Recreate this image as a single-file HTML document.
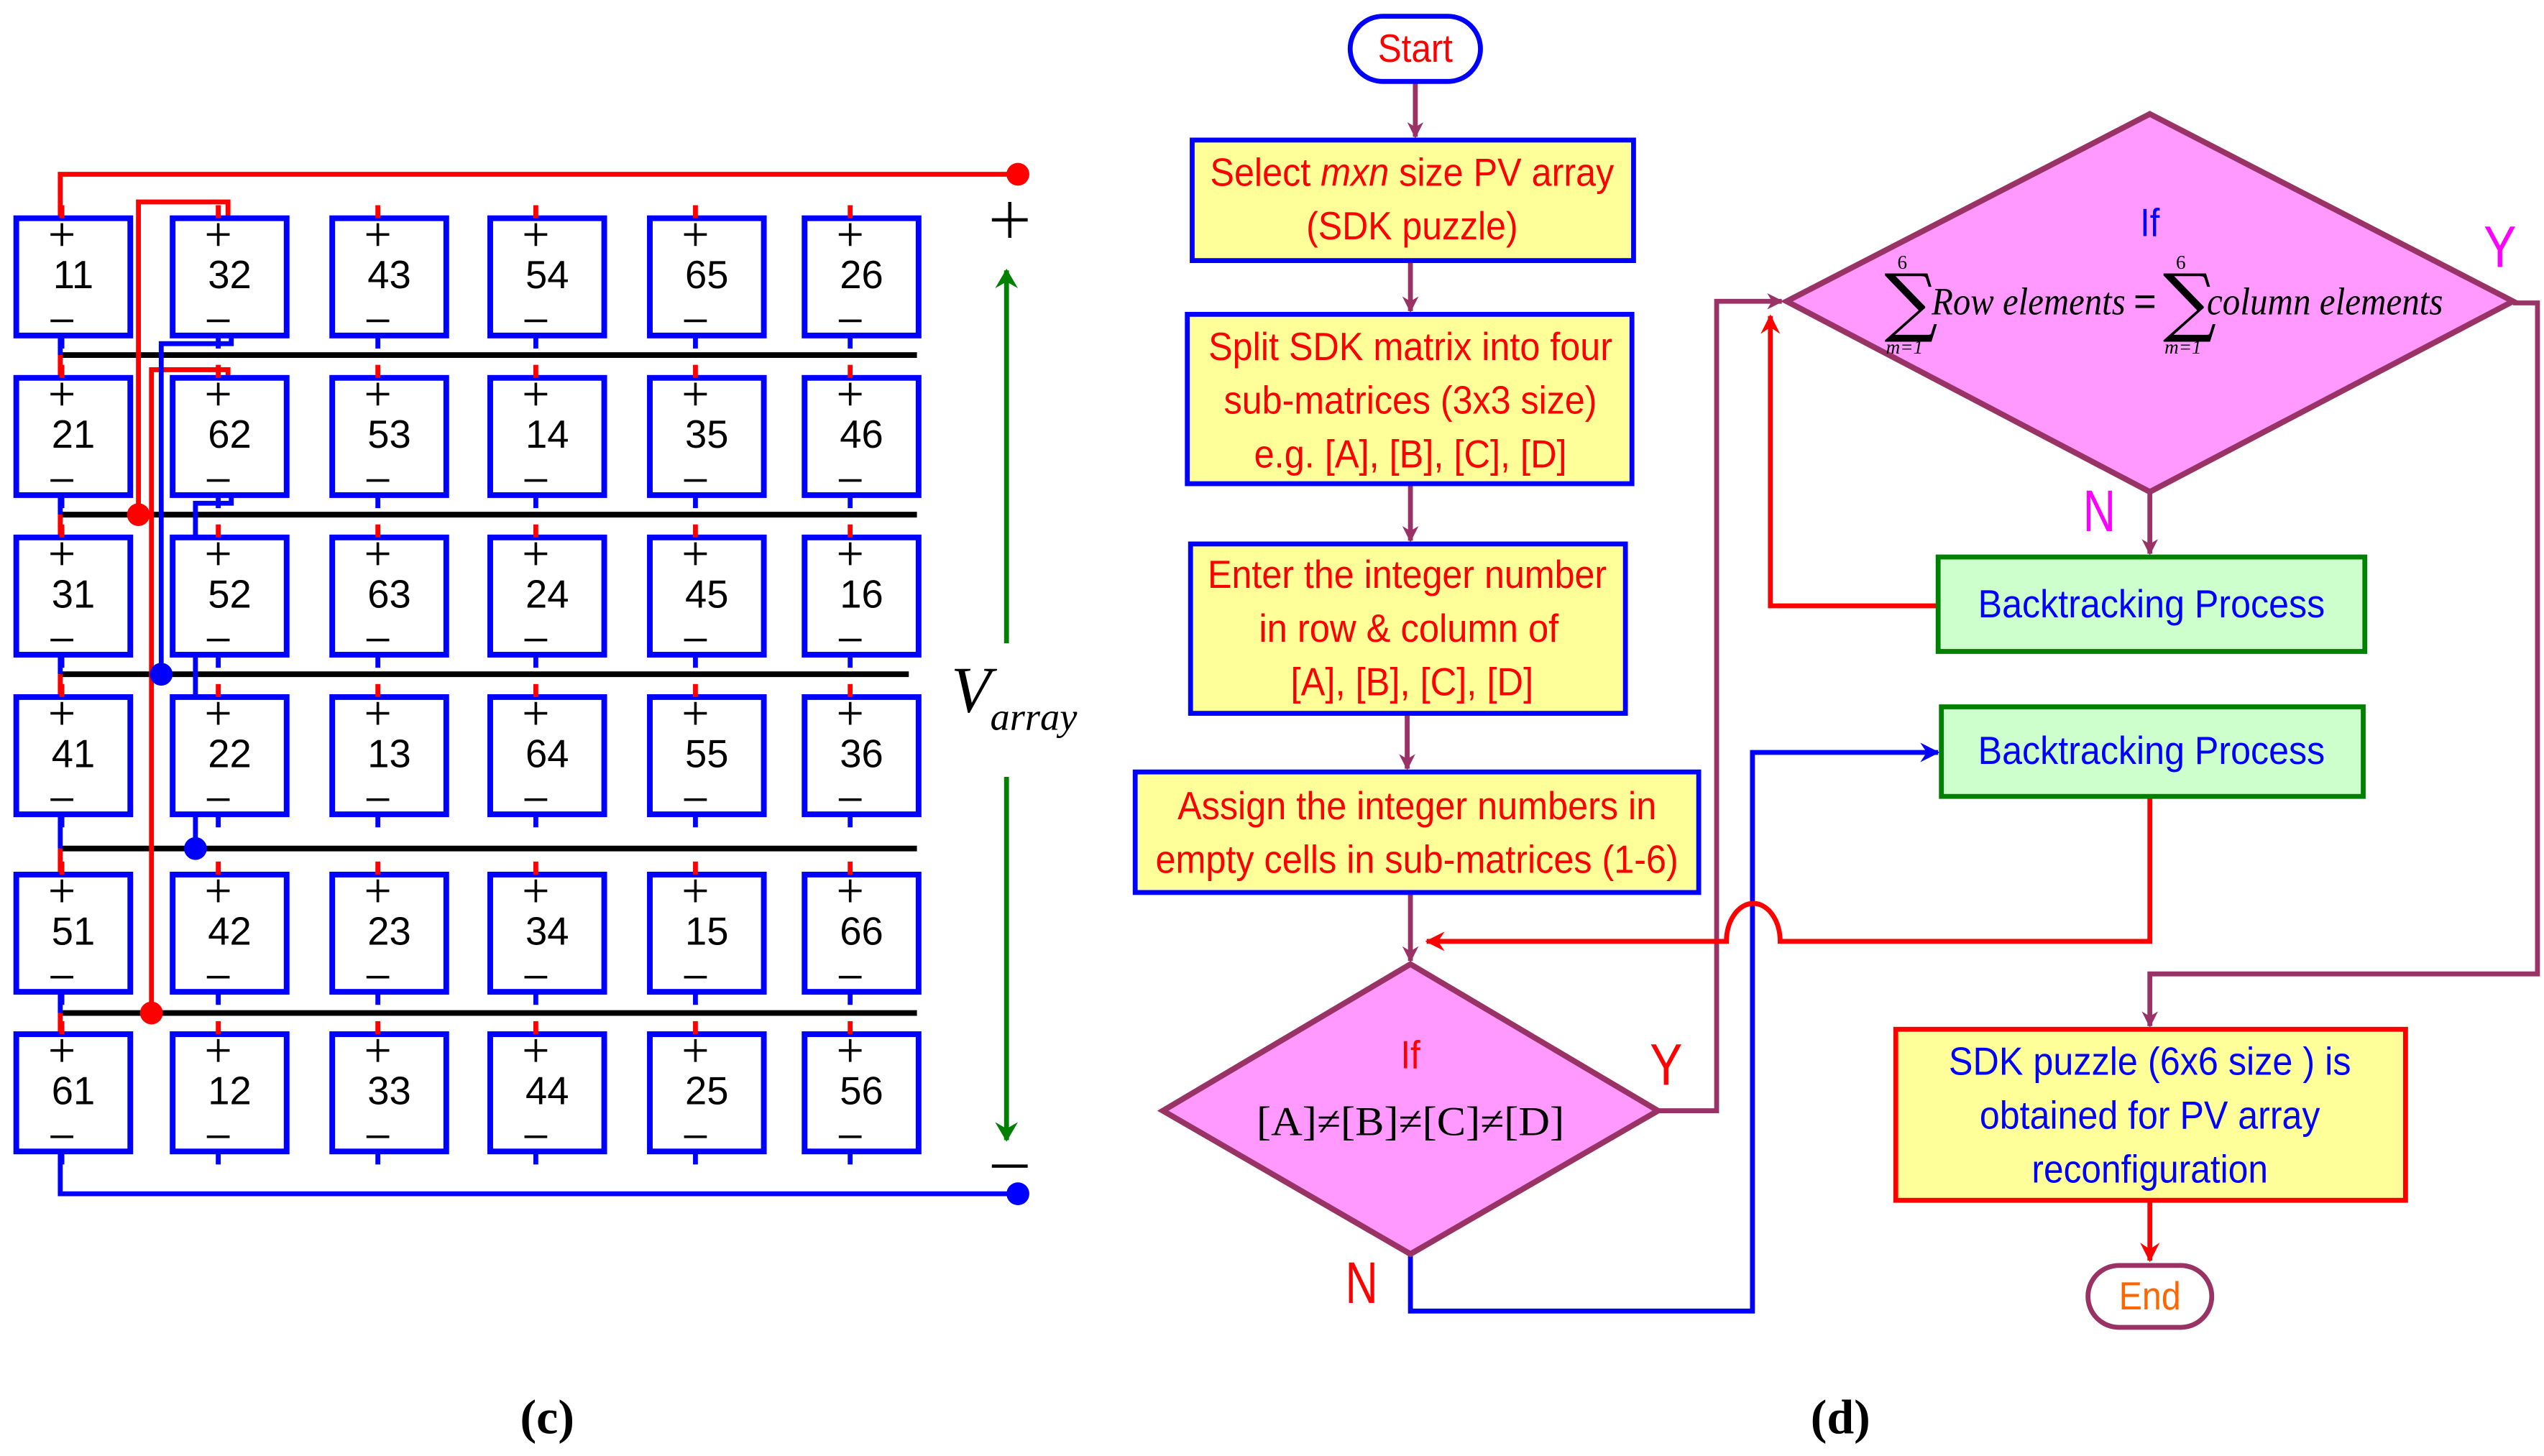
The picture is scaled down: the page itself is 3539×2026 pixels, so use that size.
<!DOCTYPE html>
<html><head><meta charset="utf-8"><style>
html,body{margin:0;padding:0;background:#fff;width:3539px;height:2026px;overflow:hidden}
svg{display:block}
.n{font-family:"Liberation Sans Narrow","Liberation Sans",sans-serif;font-size:24px;fill:#000;text-anchor:middle}
.t{font-family:"Liberation Sans Narrow","Liberation Sans",sans-serif;font-size:24px;text-anchor:middle}
.m{font-family:"Liberation Serif",serif;font-style:italic;font-size:24px;fill:#000}
.s{font-family:"Liberation Serif",serif;font-style:italic;font-size:12px;fill:#000}
.big{font-size:36px}
.sig{font-family:"DejaVu Serif","Liberation Serif",serif;font-size:46px;fill:#000}
</style></head><body>
<svg width="3539" height="2026" viewBox="0 0 1562 894" preserveAspectRatio="none" xmlns="http://www.w3.org/2000/svg">
<defs>
<symbol id="c" overflow="visible">
<rect x="0" y="0" width="70" height="72" fill="#fff" stroke="#0000ff" stroke-width="3.5"/>
<line x1="28" y1="-8" x2="28" y2="0" stroke="#f00" stroke-width="3"/>
<line x1="28" y1="72" x2="28" y2="80" stroke="#00f" stroke-width="3"/>
<path d="M21 10h14M28 3v14M21 63h14" stroke="#000" stroke-width="1.6"/>
</symbol>
<marker id="ap" markerWidth="10" markerHeight="10" refX="9" refY="5" orient="auto" markerUnits="userSpaceOnUse" viewBox="0 0 10 10"><path d="M0,0 L10,5 L0,10 L3,5z" fill="#993366"/></marker>
<marker id="ar" markerWidth="12" markerHeight="12" refX="11" refY="6" orient="auto" markerUnits="userSpaceOnUse" viewBox="0 0 12 12"><path d="M0,0 L12,6 L0,12 L4,6z" fill="#f00"/></marker>
<marker id="ab" markerWidth="12" markerHeight="12" refX="11" refY="6" orient="auto" markerUnits="userSpaceOnUse" viewBox="0 0 12 12"><path d="M0,0 L12,6 L0,12 L4,6z" fill="#00f"/></marker>
<marker id="ag" markerWidth="12" markerHeight="14" refX="11" refY="7" orient="auto" markerUnits="userSpaceOnUse" viewBox="0 0 12 14"><path d="M0,0 L12,7 L0,14 L4,7z" fill="#008000"/></marker>
</defs>

<g stroke="#000" stroke-width="3.5">
<line x1="37" y1="218" x2="563" y2="218"/><line x1="37" y1="316" x2="563" y2="316"/>
<line x1="37" y1="414" x2="558" y2="414"/><line x1="37" y1="521" x2="563" y2="521"/>
<line x1="37" y1="622" x2="563" y2="622"/>
</g>
<g stroke-width="3">
<path d="M37 134V107H625" stroke="#f00" fill="none"/>
<path d="M37 206V218M37 304V316M37 402V414M37 500V521M37 608V622M37 707V733H625" stroke="#00f" fill="none"/>
<path d="M37 218V232M37 316V330M37 414V428M37 521V537M37 622V635" stroke="#f00" fill="none"/>
<path d="M140 134V124H85V316" stroke="#f00" fill="none"/>
<path d="M140 232V227H93V622" stroke="#f00" fill="none"/>
<path d="M142 206V211H99V414" stroke="#00f" fill="none"/>
<path d="M142 304V309H120V521" stroke="#00f" fill="none"/>
</g>
<circle cx="625" cy="107" r="7" fill="#f00"/><circle cx="625" cy="733" r="7" fill="#00f"/>
<circle cx="85" cy="316" r="7" fill="#f00"/><circle cx="93" cy="622" r="7" fill="#f00"/>
<circle cx="99" cy="414" r="7" fill="#00f"/><circle cx="120" cy="521" r="7" fill="#00f"/>

<g>
<use href="#c" x="10" y="134"/><use href="#c" x="106" y="134"/><use href="#c" x="204" y="134"/><use href="#c" x="301" y="134"/><use href="#c" x="399" y="134"/><use href="#c" x="494" y="134"/>
<use href="#c" x="10" y="232"/><use href="#c" x="106" y="232"/><use href="#c" x="204" y="232"/><use href="#c" x="301" y="232"/><use href="#c" x="399" y="232"/><use href="#c" x="494" y="232"/>
<use href="#c" x="10" y="330"/><use href="#c" x="106" y="330"/><use href="#c" x="204" y="330"/><use href="#c" x="301" y="330"/><use href="#c" x="399" y="330"/><use href="#c" x="494" y="330"/>
<use href="#c" x="10" y="428"/><use href="#c" x="106" y="428"/><use href="#c" x="204" y="428"/><use href="#c" x="301" y="428"/><use href="#c" x="399" y="428"/><use href="#c" x="494" y="428"/>
<use href="#c" x="10" y="537"/><use href="#c" x="106" y="537"/><use href="#c" x="204" y="537"/><use href="#c" x="301" y="537"/><use href="#c" x="399" y="537"/><use href="#c" x="494" y="537"/>
<use href="#c" x="10" y="635"/><use href="#c" x="106" y="635"/><use href="#c" x="204" y="635"/><use href="#c" x="301" y="635"/><use href="#c" x="399" y="635"/><use href="#c" x="494" y="635"/>
</g>
<g class="n">
<text x="45" y="177">11</text><text x="141" y="177">32</text><text x="239" y="177">43</text><text x="336" y="177">54</text><text x="434" y="177">65</text><text x="529" y="177">26</text>
<text x="45" y="275">21</text><text x="141" y="275">62</text><text x="239" y="275">53</text><text x="336" y="275">14</text><text x="434" y="275">35</text><text x="529" y="275">46</text>
<text x="45" y="373">31</text><text x="141" y="373">52</text><text x="239" y="373">63</text><text x="336" y="373">24</text><text x="434" y="373">45</text><text x="529" y="373">16</text>
<text x="45" y="471">41</text><text x="141" y="471">22</text><text x="239" y="471">13</text><text x="336" y="471">64</text><text x="434" y="471">55</text><text x="529" y="471">36</text>
<text x="45" y="580">51</text><text x="141" y="580">42</text><text x="239" y="580">23</text><text x="336" y="580">34</text><text x="434" y="580">15</text><text x="529" y="580">66</text>
<text x="45" y="678">61</text><text x="141" y="678">12</text><text x="239" y="678">33</text><text x="336" y="678">44</text><text x="434" y="678">25</text><text x="529" y="678">56</text>
</g>
<path d="M609 135h22M620 124v22M609 716h22" stroke="#000" stroke-width="2"/>
<line x1="618" y1="395" x2="618" y2="166" stroke="#008000" stroke-width="3" marker-end="url(#ag)"/>
<line x1="618" y1="477" x2="618" y2="700" stroke="#008000" stroke-width="3" marker-end="url(#ag)"/>
<text x="584" y="437" font-family="Liberation Serif,serif" font-style="italic" font-size="40">V</text>
<text x="608" y="448" font-family="Liberation Serif,serif" font-style="italic" font-size="24">array</text>

<text x="336" y="880" font-family="Liberation Serif,serif" font-weight="bold" font-size="30" text-anchor="middle">(c)</text>
<text x="1130" y="880" font-family="Liberation Serif,serif" font-weight="bold" font-size="30" text-anchor="middle">(d)</text>

<g fill="none" stroke-width="3">
<line x1="869" y1="50" x2="869" y2="84" stroke="#993366" marker-end="url(#ap)"/>
<line x1="866" y1="160" x2="866" y2="191" stroke="#993366" marker-end="url(#ap)"/>
<line x1="866" y1="297" x2="866" y2="332" stroke="#993366" marker-end="url(#ap)"/>
<line x1="864" y1="438" x2="864" y2="472" stroke="#993366" marker-end="url(#ap)"/>
<line x1="866" y1="548" x2="866" y2="590" stroke="#993366" marker-end="url(#ap)"/>
<path d="M1018 682H1054V185H1094" stroke="#993366" marker-end="url(#ap)"/>
<path d="M1543 186H1558V598H1320V630" stroke="#993366" marker-end="url(#ap)"/>
<line x1="1320" y1="302" x2="1320" y2="340" stroke="#993366" marker-end="url(#ap)"/>
<path d="M1190 372H1087V194" stroke="#f00" marker-end="url(#ar)"/>
<path d="M866 770V805H1076V462H1190" stroke="#00f" marker-end="url(#ab)"/>
<path d="M1320 489V578H1093A8.5 12 0 0 0 1060 578H876" stroke="#f00" marker-end="url(#ar)"/>
<line x1="1320" y1="737" x2="1320" y2="774" stroke="#f00" marker-end="url(#ar)"/>
</g>

<rect x="829" y="10" width="80" height="40" rx="20" fill="#fff" stroke="#00f" stroke-width="3"/>
<text x="869" y="38" class="t" fill="#f00" textLength="46" lengthAdjust="spacingAndGlyphs">Start</text>

<rect x="732" y="86" width="271" height="74" fill="#ffff99" stroke="#00f" stroke-width="3"/>
<text class="t" fill="#f00" x="867" y="114" textLength="248" lengthAdjust="spacingAndGlyphs">Select <tspan font-style="italic">mxn</tspan> size PV array</text>
<text class="t" fill="#f00" x="867" y="147" textLength="130" lengthAdjust="spacingAndGlyphs">(SDK puzzle)</text>

<rect x="729" y="193" width="273" height="104" fill="#ffff99" stroke="#00f" stroke-width="3"/>
<text class="t" fill="#f00" x="866" y="221" textLength="248" lengthAdjust="spacingAndGlyphs">Split SDK matrix into four</text>
<text class="t" fill="#f00" x="866" y="254" textLength="229" lengthAdjust="spacingAndGlyphs">sub-matrices (3x3 size)</text>
<text class="t" fill="#f00" x="866" y="287" textLength="192" lengthAdjust="spacingAndGlyphs">e.g. [A], [B], [C], [D]</text>

<rect x="731" y="334" width="267" height="104" fill="#ffff99" stroke="#00f" stroke-width="3"/>
<text class="t" fill="#f00" x="864" y="361" textLength="245" lengthAdjust="spacingAndGlyphs">Enter the integer number</text>
<text class="t" fill="#f00" x="865" y="394" textLength="184" lengthAdjust="spacingAndGlyphs">in row &amp; column of</text>
<text class="t" fill="#f00" x="867" y="427" textLength="149" lengthAdjust="spacingAndGlyphs">[A], [B], [C], [D]</text>

<rect x="697" y="474" width="346" height="74" fill="#ffff99" stroke="#00f" stroke-width="3"/>
<text class="t" fill="#f00" x="870" y="503" textLength="294" lengthAdjust="spacingAndGlyphs">Assign the integer numbers in</text>
<text class="t" fill="#f00" x="870" y="536" textLength="321" lengthAdjust="spacingAndGlyphs">empty cells in sub-matrices (1-6)</text>

<polygon points="866,592 1018,682 866,770 714,682" fill="#ff99ff" stroke="#993366" stroke-width="3.5"/>
<text x="866" y="656" class="t" fill="#f00" textLength="12" lengthAdjust="spacingAndGlyphs">If</text>
<text x="866" y="697" font-family="Liberation Serif,serif" font-size="25" text-anchor="middle" fill="#000" textLength="189" lengthAdjust="spacingAndGlyphs">[A]≠[B]≠[C]≠[D]</text>
<text x="1023" y="666" class="t big" fill="#f00" textLength="20" lengthAdjust="spacingAndGlyphs">Y</text>
<text x="836" y="800" class="t big" fill="#f00" textLength="20" lengthAdjust="spacingAndGlyphs">N</text>

<polygon points="1320,70 1543,185 1320,302 1097,185" fill="#ff99ff" stroke="#993366" stroke-width="3.5"/>
<text x="1320" y="145" class="t" fill="#00f" textLength="12" lengthAdjust="spacingAndGlyphs">If</text>
<text x="1157" y="201" class="sig">∑</text>
<text x="1165" y="165" class="s" style="font-style:normal">6</text>
<text x="1158" y="217" class="s">m=1</text>
<text x="1186" y="193" class="m" textLength="119" lengthAdjust="spacingAndGlyphs">Row elements</text>
<text x="1310" y="193" font-family="Liberation Sans,sans-serif" font-size="24">=</text>
<text x="1328" y="201" class="sig">∑</text>
<text x="1336" y="165" class="s" style="font-style:normal">6</text>
<text x="1329" y="217" class="s">m=1</text>
<text x="1355" y="193" class="m" textLength="145" lengthAdjust="spacingAndGlyphs">column elements</text>
<text x="1535" y="164" class="t big" fill="#ff00ff" textLength="20" lengthAdjust="spacingAndGlyphs">Y</text>
<text x="1289" y="326" class="t big" fill="#ff00ff" textLength="20" lengthAdjust="spacingAndGlyphs">N</text>

<rect x="1190" y="342" width="262" height="58" fill="#ccffcc" stroke="#008000" stroke-width="3"/>
<text x="1321" y="379" class="t" fill="#00f" textLength="213" lengthAdjust="spacingAndGlyphs">Backtracking Process</text>
<rect x="1192" y="434" width="259" height="55" fill="#ccffcc" stroke="#008000" stroke-width="3"/>
<text x="1321" y="469" class="t" fill="#00f" textLength="213" lengthAdjust="spacingAndGlyphs">Backtracking Process</text>

<rect x="1164" y="632" width="313" height="105" fill="#ffff99" stroke="#f00" stroke-width="3"/>
<text class="t" fill="#00f" x="1320" y="660" textLength="247" lengthAdjust="spacingAndGlyphs">SDK puzzle (6x6 size ) is</text>
<text class="t" fill="#00f" x="1320" y="693" textLength="209" lengthAdjust="spacingAndGlyphs">obtained for PV array</text>
<text class="t" fill="#00f" x="1320" y="726" textLength="145" lengthAdjust="spacingAndGlyphs">reconfiguration</text>

<rect x="1282" y="777" width="76" height="38" rx="19" fill="#fff" stroke="#993366" stroke-width="3"/>
<text x="1320" y="804" class="t" fill="#ff6600" textLength="38" lengthAdjust="spacingAndGlyphs">End</text>
</svg>
</body></html>
